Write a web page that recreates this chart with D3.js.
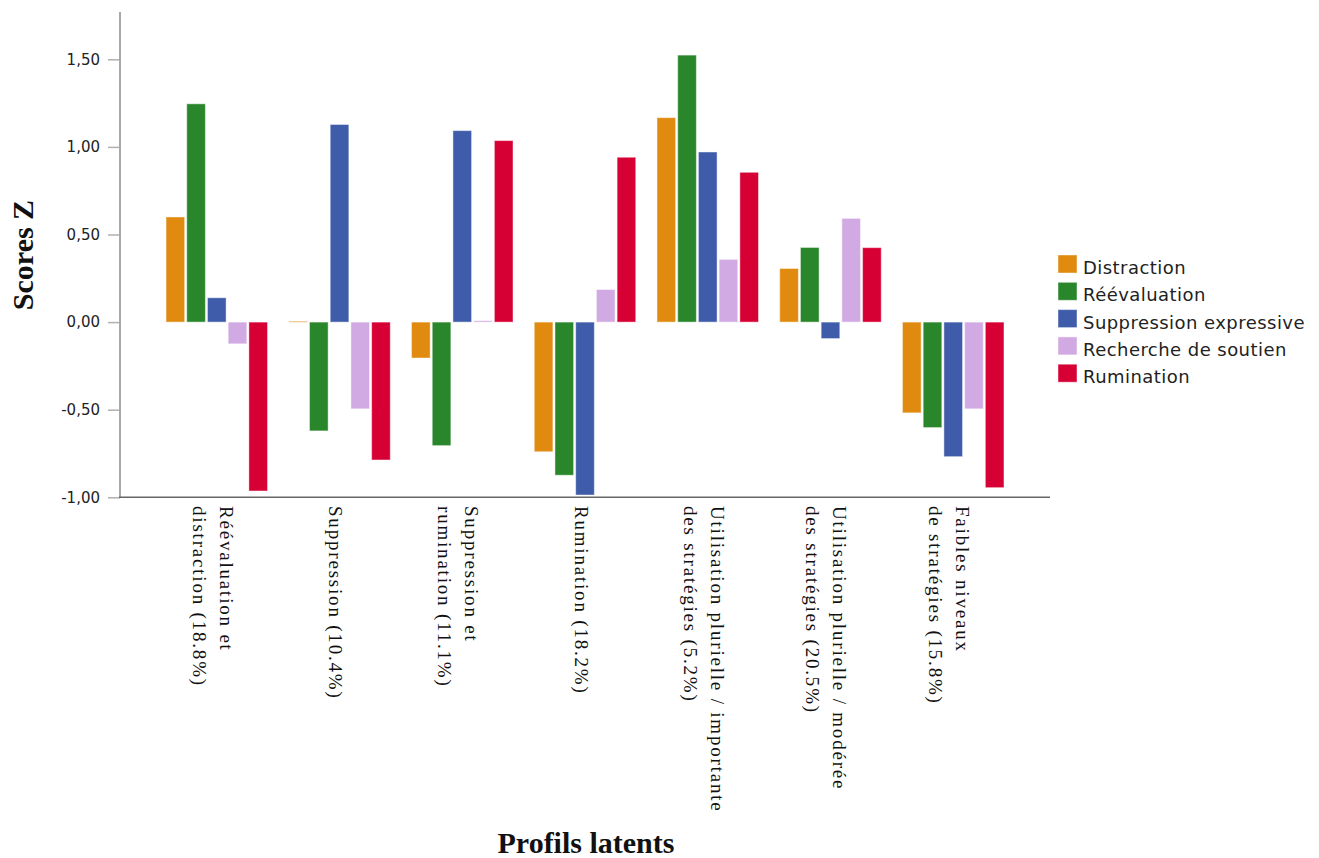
<!DOCTYPE html>
<html>
<head>
<meta charset="utf-8">
<script src="https://cdn.jsdelivr.net/npm/d3@7"></script>
<style>
  body { margin: 0; background: #fff; }
  svg { display: block; }
</style>
</head>
<body>
<div id="target"></div>
<script>
// profils latents (libellés sur plusieurs lignes)
const categories = [
    ['Réévaluation et', 'distraction (18.8%)'],
    ['Suppression (10.4%)'],
    ['Suppression et', 'rumination (11.1%)'],
    ['Rumination (18.2%)'],
    ['Utilisation plurielle / importante', 'des stratégies (5.2%)'],
    ['Utilisation plurielle / modérée', 'des stratégies (20.5%)'],
    ['Faibles niveaux', 'de stratégies (15.8%)']
]

const seriesNames = ['Distraction', 'Réévaluation', 'Suppression expressive', 'Recherche de soutien', 'Rumination']

// scores Z, un tableau par stratégie (ordre des profils)
const distraction  = [0.60, 0.005, -0.205, -0.74, 1.167, 0.306, -0.518]
const reevaluation = [1.246, -0.621, -0.705, -0.874, 1.524, 0.426, -0.602]
const suppression  = [0.139, 1.128, 1.093, -0.987, 0.971, -0.094, -0.768]
const recherche    = [-0.124, -0.495, 0.008, 0.186, 0.358, 0.592, -0.495]
const rumination   = [-0.964, -0.787, 1.036, 0.941, 0.855, 0.425, -0.945]

const yTicks = [-1, -0.5, 0, 0.5, 1, 1.5]

const colors = ['#e08a10', '#2a862a', '#3e5ca9', '#d2aae3', '#d70034']

const seriesValues = [distraction, reevaluation, suppression, recherche, rumination]

const width = 1319
const height = 858
const margin = { left: 120, right: 1050, top: 12, bottom: 497.3 }

const svg = d3.select('#target').append('svg')
    .attr('width', width)
    .attr('height', height)

const catIndex = categories.map((c, i) => i)

const x0 = d3.scaleBand()
    .domain(catIndex)
    .range([margin.left, margin.right])
    .paddingInner(0.173)
    .paddingOuter(0.375)

const x1 = d3.scaleBand()
    .domain(seriesNames)
    .range([0, x0.bandwidth()])
    .paddingInner(0.1)

const y = d3.scaleLinear()
    .domain([-1, 1.77])
    .range([margin.bottom, margin.top])

const color = d3.scaleOrdinal().domain(seriesNames).range(colors)

//Bars
const groups = svg.append('g')
    .selectAll('g')
    .data(catIndex)
    .join('g')
    .attr('transform', i => `translate(${x0(i)},0)`)

groups.selectAll('rect')
    .data(i => seriesNames.map((s, k) => ({ s, v: seriesValues[k][i] })))
    .join('rect')
    .attr('x', d => x1(d.s))
    .attr('width', x1.bandwidth())
    .attr('y', d => Math.min(y(d.v), y(0)))
    .attr('height', d => Math.max(Math.abs(y(d.v) - y(0)), 1))
    .attr('fill', d => color(d.s))
    .attr('stroke', '#fff')
    .attr('stroke-opacity', 0.45)
    .attr('stroke-width', 1)

//Y axis
const yAxis = svg.append('g')
    .attr('transform', `translate(${margin.left},0)`)
    .call(d3.axisLeft(y)
        .tickValues(yTicks)
        .tickSize(12)
        .tickPadding(8)
        .tickFormat(d => d3.format('.2f')(d).replace('.', ',').replace('−', '-')))

yAxis.select('.domain').remove()
yAxis.selectAll('.tick line').attr('stroke', '#b0b0b0').attr('stroke-width', 1.5)
yAxis.selectAll('.tick text')
    .attr('font-family', 'DejaVu Sans')
    .attr('font-size', 15)
    .attr('fill', '#222')

svg.append('line')
    .attr('x1', margin.left).attr('x2', margin.left)
    .attr('y1', margin.top).attr('y2', margin.bottom)
    .attr('stroke', '#a8a8a8')
    .attr('stroke-width', 2)

//X axis line
svg.append('line')
    .attr('x1', margin.left - 1).attr('x2', margin.right)
    .attr('y1', margin.bottom).attr('y2', margin.bottom)
    .attr('stroke', '#666')
    .attr('stroke-width', 1.5)

//Category labels (rotated)
const lineGap = 27
const labels = svg.append('g')
    .selectAll('text')
    .data(catIndex)
    .join('text')
    .attr('transform', i => `translate(${x0(i) + x0.bandwidth() / 2},506) rotate(90)`)
    .attr('font-family', 'Liberation Serif')
    .attr('font-size', 19)
    .attr('letter-spacing', 1.8)
    .attr('fill', '#111')

labels.selectAll('tspan')
    .data(i => categories[i].map((t, k) => ({ t, k, n: categories[i].length })))
    .join('tspan')
    .attr('x', 0)
    .attr('y', d => 4 - ((d.n - 1) / 2 - d.k) * lineGap)
    .attr('dominant-baseline', 'central')
    .text(d => d.t)

//Axis titles
svg.append('text')
    .attr('transform', 'translate(33,255) rotate(-90)')
    .attr('text-anchor', 'middle')
    .attr('font-family', 'Liberation Serif')
    .attr('font-weight', 'bold')
    .attr('font-size', 30)
    .attr('fill', '#111')
    .text('Scores Z')

svg.append('text')
    .attr('x', (margin.left + margin.right) / 2 + 1)
    .attr('y', 853)
    .attr('text-anchor', 'middle')
    .attr('font-family', 'Liberation Serif')
    .attr('font-weight', 'bold')
    .attr('font-size', 30)
    .attr('fill', '#111')
    .text('Profils latents')

//Legend
const legend = svg.append('g')
    .attr('transform', 'translate(1058,255)')

const legendRows = legend.selectAll('g')
    .data(seriesNames)
    .join('g')
    .attr('transform', (d, i) => `translate(0,${i * 27.3})`)

legendRows.append('rect')
    .attr('width', 19)
    .attr('height', 18)
    .attr('fill', d => color(d))
    .attr('stroke', '#fff')
    .attr('stroke-opacity', 0.45)

legendRows.append('text')
    .attr('x', 25)
    .attr('y', 19)
    .attr('font-family', 'DejaVu Sans')
    .attr('font-size', 18)
    .attr('letter-spacing', 0.45)
    .attr('fill', '#222')
    .text(d => d)
</script>
</body>
</html>
